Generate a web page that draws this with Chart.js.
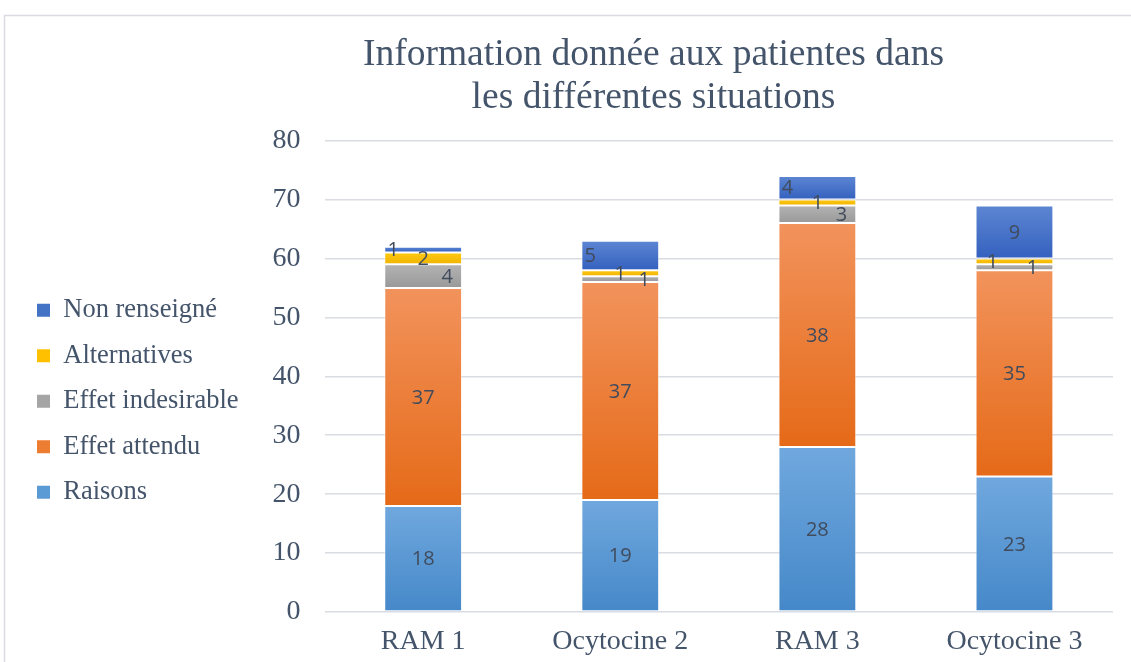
<!DOCTYPE html>
<html><head><meta charset="utf-8">
<script src="https://cdn.jsdelivr.net/npm/chart.js@4/dist/chart.umd.min.js"></script>
<style>html,body{margin:0;padding:0;background:#fff;}#wrap{width:1131px;height:662px;position:relative;}</style>
</head><body><div id="wrap"><canvas id="c" width="1131" height="662"></canvas></div>
<script>
const categories = ['RAM 1', 'Ocytocine 2', 'RAM 3', 'Ocytocine 3'];
const raisons = [18, 19, 28, 23];
const effetAttendu = [37, 37, 38, 35];
const effetIndesirable = [4, 1, 3, 1];
const alternatives = [2, 1, 1, 1];
const nonRenseigne = [1, 5, 4, 9];
const titleLines = ['Information donnée aux patientes dans', 'les différentes situations'];
const yTicks = [0, 10, 20, 30, 40, 50, 60, 70, 80];

const TEXT = '#44546A';
const SERIF = "'Liberation Serif', 'Times New Roman', serif";

function grad(top, bottom) {
  return function (ctx) {
    const chart = ctx.chart;
    if (!chart.chartArea || !chart.scales.y) return bottom;
    const di = ctx.datasetIndex, i = ctx.dataIndex;
    let below = 0;
    for (let d = 0; d < di; d++) below += chart.data.datasets[d].data[i];
    const v = chart.data.datasets[di].data[i];
    const y = chart.scales.y;
    const y0 = y.getPixelForValue(below), y1 = y.getPixelForValue(below + v);
    if (!isFinite(y0) || !isFinite(y1) || y0 === y1) return bottom;
    const g = chart.ctx.createLinearGradient(0, y1, 0, y0);
    g.addColorStop(0, top); g.addColorStop(1, bottom);
    return g;
  };
}

const datasets = [
  {label: 'Raisons', data: raisons, bg: grad('#70a8de', '#4588c9'), legend: '#5B9BD5'},
  {label: 'Effet attendu', data: effetAttendu, bg: grad('#f2935c', '#e56a18'), legend: '#ED7D31'},
  {label: 'Effet indesirable', data: effetIndesirable, bg: grad('#b3b3b3', '#999999'), legend: '#A5A5A5'},
  {label: 'Alternatives', data: alternatives, bg: grad('#ffc913', '#f0b400'), legend: '#FFC000'},
  {label: 'Non renseigné', data: nonRenseigne, bg: grad('#5d86d2', '#3461bf'), legend: '#4472C4'}
].map(d => ({
  label: d.label, data: d.data, backgroundColor: d.bg, legendColor: d.legend,
  borderColor: 'rgba(255,255,255,0.55)', borderWidth: 1, borderSkipped: false,
  categoryPercentage: 1, barPercentage: 0.395
}));

const borderPlugin = {
  id: 'frame',
  afterLayout(chart) {
    // Excel centres the title over the whole (wider) chart frame
    if (chart.titleBlock) { chart.titleBlock.left += 88; chart.titleBlock.right += 88; }
    if (chart.legend) { chart.legend.top += 25; chart.legend.bottom += 25; }
  },
  beforeDraw(chart) {
    const c = chart.ctx;
    c.save();
    c.strokeStyle = '#d9dce2'; c.lineWidth = 1.5;
    c.beginPath(); c.moveTo(4.5, 662); c.lineTo(4.5, 15.5); c.lineTo(1131, 15.5); c.stroke();
    c.restore();
  }
};

const labelPlugin = {
  id: 'segLabels',
  afterDatasetsDraw(chart) {
    const c = chart.ctx;
    c.save();
    c.font = "20px 'Open Sans', 'Liberation Sans', sans-serif";
    c.fillStyle = '#404b5c';
    c.textAlign = 'center'; c.textBaseline = 'middle';
    const n = chart.data.labels.length;
    for (let i = 0; i < n; i++) {
      const small = [];
      for (let d = chart.data.datasets.length - 1; d >= 2; d--) {
        if (chart.data.datasets[d].data[i] < 6) small.push(d);
      }
      const offs = {};
      if (small.length === 3) { offs[small[0]] = -30; offs[small[1]] = 0; offs[small[2]] = 24; }
      else if (small.length === 2) { offs[small[0]] = -22; offs[small[1]] = 18; }
      chart.data.datasets.forEach((ds, d) => {
        const bar = chart.getDatasetMeta(d).data[i];
        const cy = (bar.y + bar.base) / 2;
        c.fillText(String(ds.data[i]), bar.x + (offs[d] || 0), cy + 1);
      });
    }
    c.restore();
  }
};

new Chart(document.getElementById('c'), {
  type: 'bar',
  data: {labels: categories, datasets},
  options: {
    responsive: false, animation: false,
    layout: {padding: {left: 18, right: 18, top: 0, bottom: 0}},
    plugins: {
      title: {display: true, text: titleLines, color: TEXT,
        font: {family: SERIF, size: 37.5, weight: 'normal', lineHeight: 1.155},
        padding: {top: 33, bottom: 21}},
      legend: {position: 'left', reverse: true, fullSize: false,
        labels: {color: TEXT, font: {family: SERIF, size: 26.5}, boxWidth: 13, boxHeight: 13, padding: 19,
          generateLabels(chart) {
            return chart.data.datasets.map((ds, i) => ({
              text: ds.label, fillStyle: ds.legendColor, strokeStyle: ds.legendColor, lineWidth: 0,
              datasetIndex: i, hidden: false, fontColor: TEXT
            }));
          }}},
      tooltip: {enabled: false}
    },
    scales: {
      x: {stacked: true, grid: {display: false}, border: {display: false},
        afterFit(s) { s.height = 50; },
        ticks: {color: TEXT, font: {family: SERIF, size: 28}, padding: 5}},
      y: {stacked: true, min: 0, max: 80,
        afterBuildTicks(s) { s.ticks = yTicks.map(v => ({value: v})); },
        grid: {color: '#d9dce2', lineWidth: 1.5, drawTicks: false},
        border: {display: false},
        ticks: {color: TEXT, font: {family: SERIF, size: 28}, padding: 24}}
    }
  },
  plugins: [borderPlugin, labelPlugin]
});
</script></body></html>
